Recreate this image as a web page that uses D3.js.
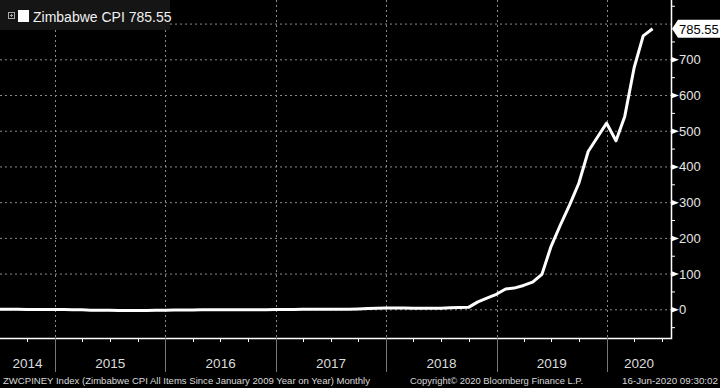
<!DOCTYPE html>
<html>
<head>
<meta charset="utf-8">
<script src="https://cdn.jsdelivr.net/npm/d3@7"></script>
<style>
    body { margin: 0; background: #000; }
    svg { display: block; font-family: "Liberation Sans", Arial, sans-serif; }
</style>
</head>
<body>
<svg width="720" height="388"></svg>
<script>
// monthly readings, plotted at month end
let months = [
    "2014-06", "2014-07", "2014-08", "2014-09", "2014-10", "2014-11", "2014-12",
    "2015-01", "2015-02", "2015-03", "2015-04", "2015-05", "2015-06", "2015-07", "2015-08", "2015-09", "2015-10", "2015-11", "2015-12",
    "2016-01", "2016-02", "2016-03", "2016-04", "2016-05", "2016-06", "2016-07", "2016-08", "2016-09", "2016-10", "2016-11", "2016-12",
    "2017-01", "2017-02", "2017-03", "2017-04", "2017-05", "2017-06", "2017-07", "2017-08", "2017-09", "2017-10", "2017-11", "2017-12",
    "2018-01", "2018-02", "2018-03", "2018-04", "2018-05", "2018-06", "2018-07", "2018-08", "2018-09", "2018-10", "2018-11", "2018-12",
    "2019-01", "2019-02", "2019-03", "2019-04", "2019-05", "2019-06", "2019-07", "2019-08", "2019-09", "2019-10", "2019-11", "2019-12",
    "2020-01", "2020-02", "2020-03", "2020-04", "2020-05"
];
let cpiValues = [
    -0.1, -0.1, -0.2, -0.4, -0.5, -0.6, -0.8,
    -0.8, -1.0, -1.5, -2.6, -2.7, -2.8, -3.3, -3.3, -3.3, -3.1, -2.8, -2.5,
    -2.2, -2.1, -2.2, -1.6, -1.5, -1.6, -1.6, -1.6, -1.4, -1.3, -1.0, -0.9,
    -0.6, -0.3, 0.1, 0.2, 0.2, 0.1, 0.4, 0.1, 0.8, 2.1, 2.6, 3.5,
    3.5, 3.5, 2.7, 2.7, 2.7, 2.9, 4.3, 4.8, 5.4, 20.9, 31.0, 42.1,
    56.9, 59.4, 66.8, 75.9, 97.9, 175.7, 236, 293, 353, 442, 481, 521.15,
    472, 540.16, 676.39, 765.57, 785.55
];
let yTicks = [0, 100, 200, 300, 400, 500, 600, 700];
let yGrid = [0, 100, 200, 300, 400, 500, 600, 700, 800];
let years = [2014, 2015, 2016, 2017, 2018, 2019, 2020];

let legendText = "Zimbabwe CPI 785.55";
let lastLabel = "785.55";
let footLeft = "ZWCPINEY Index (Zimbabwe CPI All Items Since January 2009 Year on Year)  Monthly";
let footMid = "Copyright\u00A9 2020 Bloomberg Finance L.P.";
let footRight = "16-Jun-2020 09:30:02";

let plotRight = 671, plotBottom = 338;
let svg = d3.select("svg");

let x = d3.scaleUtc()
    .domain([Date.UTC(2014, 6, 3), Date.UTC(2020, 6, 31)])
    .range([0, plotRight]);
let y = d3.scaleLinear()
    .domain([0, 800])
    .range([309.3, 23.6]);

let parseMonth = d3.utcParse("%Y-%m");
let data = months.map((m, i) => {
    let d = parseMonth(m);
    return { date: d3.utcDay.offset(d3.utcMonth.offset(d, 1), -1), value: cpiValues[i] };
});

svg.append("defs").append("clipPath").attr("id", "plot")
    .append("rect").attr("x", 0).attr("y", 0).attr("width", plotRight).attr("height", plotBottom);

// gridlines
svg.append("g")
    .selectAll("line")
    .data(yGrid)
    .enter()
    .append("line")
    .attr("x1", 0).attr("x2", plotRight)
    .attr("y1", d => y(d) + 0.5).attr("y2", d => y(d) + 0.5)
    .attr("stroke", "#8a8a8a")
    .attr("stroke-dasharray", "2,3");

let yearStarts = years.slice(1).map(yr => new Date(Date.UTC(yr, 0, 1)));
svg.append("g")
    .selectAll("line")
    .data(yearStarts)
    .enter()
    .append("line")
    .attr("x1", d => Math.round(x(d)) + 0.5).attr("x2", d => Math.round(x(d)) + 0.5)
    .attr("y1", 0).attr("y2", plotBottom)
    .attr("stroke", "#8a8a8a")
    .attr("stroke-dasharray", "2,3");

// the series
let line = d3.line()
    .x(d => x(d.date))
    .y(d => y(d.value));

svg.append("path")
    .datum(data)
    .attr("clip-path", "url(#plot)")
    .attr("d", line)
    .attr("fill", "none")
    .attr("stroke", "#fff")
    .attr("stroke-width", 3)
    .attr("stroke-linejoin", "round");

// frame
svg.append("path")
    .attr("d", `M0,${plotBottom + 0.5}H${plotRight + 0.5}V0`)
    .attr("fill", "none")
    .attr("stroke", "#fff")
    .attr("stroke-width", 1.5);

// right axis
let minor = d3.range(-50, 851, 50).filter(v => v % 100 != 0);
svg.append("g")
    .selectAll("line")
    .data(minor)
    .enter()
    .append("line")
    .attr("x1", plotRight).attr("x2", plotRight + 4)
    .attr("y1", d => y(d) + 0.5).attr("y2", d => y(d) + 0.5)
    .attr("stroke", "#fff");

svg.append("g")
    .selectAll("path")
    .data(yTicks)
    .enter()
    .append("path")
    .attr("d", d => `M${plotRight},${y(d) - 2.5}L${plotRight + 8},${y(d) + 0.5}L${plotRight},${y(d) + 3.5}Z`)
    .attr("fill", "#fff");

svg.append("g")
    .selectAll("text")
    .data(yTicks)
    .enter()
    .append("text")
    .attr("x", 679)
    .attr("y", d => y(d) + 5)
    .attr("fill", "#e6e6e6")
    .attr("font-size", 13)
    .text(d => d);

// last value tag
let lastY = y(cpiValues[cpiValues.length - 1]);
svg.append("path")
    .attr("d", `M${plotRight + 1},${lastY}L${plotRight + 7},${lastY - 9}H720V${lastY + 9}H${plotRight + 7}Z`)
    .attr("fill", "#fff");
svg.append("text")
    .attr("x", 679)
    .attr("y", lastY + 5)
    .attr("fill", "#000")
    .attr("font-size", 13)
    .text(lastLabel);

// bottom axis: quarter ticks, year separators, year labels
let quarters = d3.utcMonth.every(3).range(x.domain()[0], x.domain()[1]);
svg.append("g")
    .selectAll("line")
    .data(quarters)
    .enter()
    .append("line")
    .attr("x1", d => Math.round(x(d)) + 0.5).attr("x2", d => Math.round(x(d)) + 0.5)
    .attr("y1", plotBottom).attr("y2", plotBottom + 4)
    .attr("stroke", "#fff");

svg.append("g")
    .selectAll("line")
    .data(yearStarts)
    .enter()
    .append("line")
    .attr("x1", d => Math.round(x(d)) + 0.5).attr("x2", d => Math.round(x(d)) + 0.5)
    .attr("y1", plotBottom).attr("y2", 372)
    .attr("stroke", "#777");

svg.append("g")
    .selectAll("text")
    .data(years)
    .enter()
    .append("text")
    .attr("x", yr => {
        let a = Math.max(0, x(new Date(Date.UTC(yr, 0, 1))));
        let b = Math.min(plotRight, x(new Date(Date.UTC(yr + 1, 0, 1))));
        return (a + b) / 2;
    })
    .attr("y", 368)
    .attr("text-anchor", "middle")
    .attr("fill", "#dcdcdc")
    .attr("font-size", 13.5)
    .text(yr => yr);

// legend
let legend = svg.append("g");
legend.append("rect")
    .attr("x", 0).attr("y", 0).attr("width", 170).attr("height", 30)
    .attr("fill", "#151515");
legend.append("rect")
    .attr("x", 8.5).attr("y", 12.5).attr("width", 6).attr("height", 6)
    .attr("fill", "none").attr("stroke", "#aaa");
legend.append("path")
    .attr("d", "M10,15.5H13M11.5,14V17")
    .attr("stroke", "#aaa");
legend.append("rect")
    .attr("x", 18).attr("y", 10).attr("width", 11).attr("height", 12)
    .attr("fill", "#fff");
legend.append("text")
    .attr("x", 33).attr("y", 22)
    .attr("fill", "#f0f0f0")
    .attr("font-size", 14)
    .text(legendText);

// footer
let foot = svg.append("g")
    .attr("fill", "#d8d8d8")
    .attr("font-size", 9.5);
foot.append("text").attr("x", 3).attr("y", 384)
    .attr("textLength", 367).attr("lengthAdjust", "spacingAndGlyphs")
    .text(footLeft);
foot.append("text").attr("x", 410).attr("y", 384)
    .attr("textLength", 173).attr("lengthAdjust", "spacingAndGlyphs")
    .text(footMid);
foot.append("text").attr("x", 622).attr("y", 384)
    .attr("textLength", 96).attr("lengthAdjust", "spacingAndGlyphs")
    .text(footRight);
</script>
</body>
</html>
